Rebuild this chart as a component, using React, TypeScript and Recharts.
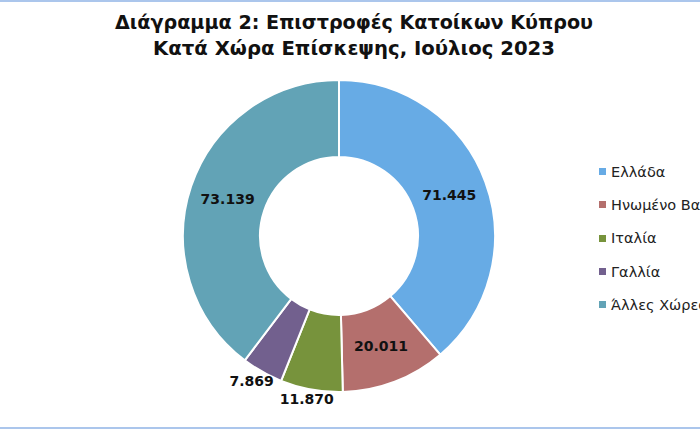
import React from "react";
import { PieChart, Pie, Cell, Legend } from "recharts";

const categories = ["Ελλάδα", "Ηνωμένο Βασίλειο", "Ιταλία", "Γαλλία", "Άλλες Χώρες"];
const values = [71445, 20011, 11870, 7869, 73139];
const colors = ["#67abe5", "#b46f6d", "#77933c", "#72608e", "#62a3b6"];
const titleLines = ["Διάγραμμα 2: Επιστροφές Κατοίκων Κύπρου", "Κατά Χώρα Επίσκεψης, Ιούλιος 2023"];

const data = categories.map((name, i) => ({ name, value: values[i] }));

const fmt = (v: number) => String(v).replace(/\B(?=(\d{3})+(?!\d))/g, ".");

const RAD = Math.PI / 180;

const renderLabel = (props: any) => {
  const { cx, cy, midAngle, innerRadius, outerRadius, value, percent } = props;
  const text = fmt(value);
  const cos = Math.cos(-midAngle * RAD);
  const sin = Math.sin(-midAngle * RAD);
  let x: number;
  let y: number;
  if (percent > 0.08) {
    const r = (innerRadius + outerRadius) / 2;
    x = cx + r * cos;
    y = cy + r * sin;
  } else {
    const r = outerRadius;
    const w = text.length * 8.6;
    const h = 14;
    x = cx + r * cos + (cos * w) / 2;
    y = cy + r * sin + (sin * h) / 2 + 3;
  }
  return (
    <text
      x={x}
      y={y}
      textAnchor="middle"
      dominantBaseline="central"
      fontFamily="DejaVu Sans"
      fontWeight="bold"
      fontSize={14}
      fill="#111"
    >
      {text}
    </text>
  );
};

const renderLegend = () => (
  <div style={{ fontFamily: "DejaVu Sans", fontSize: 14.5, color: "#222", whiteSpace: "nowrap" }}>
    {data.map((d, i) => (
      <div key={d.name} style={{ display: "flex", alignItems: "center", height: 33.3 }}>
        <span style={{ display: "inline-block", width: 7, height: 7, background: colors[i], marginRight: 5 }} />
        <span>{d.name}</span>
      </div>
    ))}
  </div>
);

export default function App() {
  return (
    <div
      style={{
        position: "absolute",
        left: 0,
        top: 0,
        width: 700,
        height: 430,
        overflow: "hidden",
        background: "#fff",
      }}
    >
      <div style={{ position: "absolute", left: 0, top: 0, width: 700, height: 2, background: "#abc6ec" }} />
      <div style={{ position: "absolute", left: 0, top: 427, width: 700, height: 2, background: "#abc6ec" }} />
      <svg width={700} height={70} style={{ position: "absolute", left: 0, top: 0 }}>
        <text x={354} y={29} textAnchor="middle" fontFamily="DejaVu Sans" fontWeight="bold" fontSize={19} fill="#111" textLength={478} lengthAdjust="spacingAndGlyphs">
          {titleLines[0]}
        </text>
        <text x={354} y={55} textAnchor="middle" fontFamily="DejaVu Sans" fontWeight="bold" fontSize={19} fill="#111" textLength={402} lengthAdjust="spacingAndGlyphs">
          {titleLines[1]}
        </text>
      </svg>
      <div style={{ position: "absolute", left: 0, top: 0 }}>
        <PieChart width={700} height={430} margin={{ top: 0, right: 0, bottom: 0, left: 0 }}>
          <Pie
            data={data}
            dataKey="value"
            nameKey="name"
            cx={339}
            cy={236}
            innerRadius={79}
            outerRadius={156}
            startAngle={90}
            endAngle={-270}
            stroke="#fff"
            strokeWidth={2}
            label={renderLabel}
            labelLine={false}
            isAnimationActive={false}
          >
            {data.map((d, i) => (
              <Cell key={d.name} fill={colors[i]} />
            ))}
          </Pie>
          <Legend
            content={renderLegend}
            layout="vertical"
            wrapperStyle={{ position: "absolute", left: 599, top: 155, width: 200 }}
          />
        </PieChart>
      </div>
    </div>
  );
}
